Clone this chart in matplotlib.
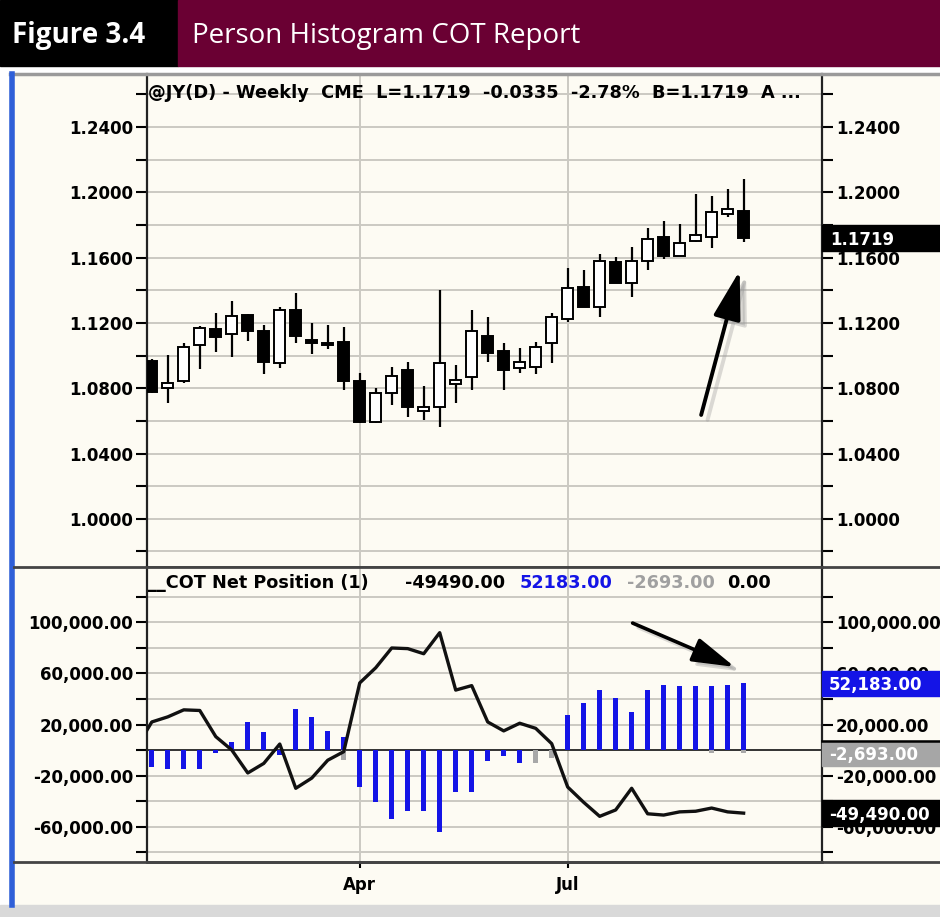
import numpy as np
import matplotlib
matplotlib.use("Agg")
import matplotlib.pyplot as plt
from matplotlib.patches import Rectangle
from matplotlib.lines import Line2D
from matplotlib.ticker import FixedLocator, FuncFormatter

# weekly @JY(D) candles
weeks = np.arange(38)
opens = [1.0969, 1.0799, 1.0844, 1.1065, 1.1161, 1.1130, 1.1248, 1.1150, 1.0952, 1.1279,
         1.1095, 1.1079, 1.1085, 1.0846, 1.0595, 1.0769, 1.0912, 1.0662, 1.0683, 1.0826,
         1.0867, 1.1120, 1.1030, 1.0922, 1.0932, 1.1075, 1.1222, 1.1418, 1.1300, 1.1571,
         1.1443, 1.1581, 1.1724, 1.1612, 1.1702, 1.1724, 1.1867, 1.1888]
highs = [1.0977, 1.1003, 1.1079, 1.1181, 1.1263, 1.1336, 1.1255, 1.1187, 1.1300, 1.1381,
         1.1197, 1.1187, 1.1177, 1.0891, 1.0799, 1.0928, 1.0959, 1.0814, 1.1402, 1.0942,
         1.1279, 1.1238, 1.1079, 1.1044, 1.1085, 1.1259, 1.1534, 1.1524, 1.1622, 1.1606,
         1.1663, 1.1779, 1.1824, 1.1804, 1.1988, 1.1977, 1.2018, 1.2082]
lows = [1.0769, 1.0711, 1.0834, 1.0916, 1.1024, 1.0993, 1.1089, 1.0887, 1.0922, 1.1075,
        1.1008, 1.1038, 1.0789, 1.0585, 1.0585, 1.0697, 1.0626, 1.0605, 1.0564, 1.0711,
        1.0789, 1.0963, 1.0789, 1.0891, 1.0887, 1.0952, 1.1208, 1.1300, 1.1234, 1.1443,
        1.1361, 1.1524, 1.1589, 1.1612, 1.1698, 1.1657, 1.1851, 1.1698]
closes = [1.0779, 1.0834, 1.1055, 1.1171, 1.1116, 1.1244, 1.1150, 1.0963, 1.1279, 1.1120,
          1.1075, 1.1063, 1.0844, 1.0591, 1.0769, 1.0877, 1.0683, 1.0687, 1.0956, 1.0850,
          1.1150, 1.1018, 1.0912, 1.0958, 1.1055, 1.1234, 1.1412, 1.1300, 1.1579, 1.1447,
          1.1579, 1.1712, 1.1612, 1.1688, 1.1738, 1.1877, 1.1896, 1.1719]
last_price = 1.1719

# COT net positions
spec_net = [-13000, -15000, -15000, -15000, -2000, 6500, 22000, 14000, -4000, 32000,
            26000, 15000, 10000, -29000, -41000, -54000, -48000, -48000, -64000, -33000,
            -33000, -9000, -5000, -10500, 0, 0, 27600, 37000, 47000, 41000,
            29500, 47000, 51000, 50000, 50000, 50000, 51000, 52183]
small_net = [0, 0, 0, 0, 0, 0, 0, 0, 0, 0,
             0, 0, -8000, 0, 0, 0, 0, 0, 0, 0,
             0, 0, 0, 0, -10500, -6000, 0, 0, 0, 0,
             0, 0, 0, 0, 0, -2000, 0, -2693]
line_weeks = np.arange(-1, 38)
comm_net = [1000, 22000, 26000, 31500, 31000, 10500, 0, -18000, -10500, 4700,
            -30000, -22000, -8000, -1300, 52600, 64500, 80000, 79500, 75500, 92000,
            47000, 50500, 22000, 15000, 21000, 17000, 5000, -29000, -41000, -52000,
            -47000, -30000, -50000, -51000, -48500, -48000, -45500, -48500, -49490]
last_comm, last_spec, last_small = -49490, 52183, -2693

month_ticks = [13, 26]
month_labels = ["Apr", "Jul"]

W, H = 940, 917
cream = "#fdfbf3"
grid_c = "#cbc9c2"
blue = "#1414e6"
font = "DejaVu Sans"

fig = plt.figure(figsize=(W / 100, H / 100), dpi=100, facecolor="white")


def fx(px):
    return px / W


def fy(py):
    return 1 - py / H


# window background and header
fig.add_artist(Rectangle((fx(10), fy(905)), fx(930), (905 - 74) / H, transform=fig.transFigure,
                         color=cream, zorder=0))
fig.add_artist(Rectangle((0, fy(917)), 1, 12 / H, transform=fig.transFigure, color="#d9d9d9", zorder=0))
fig.add_artist(Rectangle((0, fy(66)), fx(178), 66 / H, transform=fig.transFigure, color="black", zorder=1))
fig.add_artist(Rectangle((fx(178), fy(66)), 1 - fx(178), 66 / H, transform=fig.transFigure,
                         color="#6a0033", zorder=1))
fig.text(fx(12), fy(36), "Figure 3.4", color="white", fontsize=20, fontweight="bold",
         family="Open Sans", va="center", zorder=2)
fig.text(fx(192), fy(36), "Person Histogram COT Report", color="white", fontsize=20,
         family="Open Sans", va="center", zorder=2)
fig.add_artist(Line2D([fx(10), 1], [fy(74), fy(74)], color="#9a9a9a", lw=2.5, transform=fig.transFigure))
fig.add_artist(Line2D([fx(12), fx(12)], [fy(74), fy(905)], color="#2f5fd8", lw=4, transform=fig.transFigure))

ax1 = fig.add_axes([fx(147), fy(567), fx(822 - 147), (567 - 74) / H])
ax2 = fig.add_axes([fx(147), fy(862), fx(822 - 147), (862 - 567) / H], sharex=ax1)

for ax in (ax1, ax2):
    ax.set_facecolor(cream)
    ax.spines["top"].set_visible(False)
    for s in ("left", "right"):
        ax.spines[s].set_linewidth(1.6)
        ax.spines[s].set_color("#222222")
    ax.spines["bottom"].set_linewidth(2)
    ax.spines["bottom"].set_color("#444444")
    ax.tick_params(axis="y", which="both", direction="out", length=8, width=1.5,
                   left=True, right=True, labelleft=True, labelright=True, pad=2)
    ax.grid(axis="y", which="both", color=grid_c, lw=1.4, zorder=0)
    ax.set_axisbelow(True)
    ax.axvline(month_ticks[0], color=grid_c, lw=1.4, zorder=0)
    ax.axvline(month_ticks[1], color=grid_c, lw=1.4, zorder=0)

ax1.set_xlim(-0.3, 41.9)

# ---- price panel
ax1.set_ylim(0.9705, 1.2725)
ax1.yaxis.set_major_locator(FixedLocator([1.00, 1.04, 1.08, 1.12, 1.16, 1.20, 1.24]))
ax1.yaxis.set_minor_locator(FixedLocator([0.98, 1.02, 1.06, 1.10, 1.14, 1.18, 1.22, 1.26]))
ax1.yaxis.set_major_formatter(FuncFormatter(lambda v, p: f"{v:.4f}"))
ax1.tick_params(axis="x", which="both", bottom=False, labelbottom=False)

o = np.array(opens)
c = np.array(closes)
ax1.vlines(weeks, lows, highs, color="black", lw=1.6, zorder=3)
up = c >= o
ax1.bar(weeks, np.abs(c - o), bottom=np.minimum(o, c), width=0.7,
        color=np.where(up, "white", "black"), edgecolor="black", lw=1.4, zorder=4)

ytr1 = ax1.get_yaxis_transform()
ax1.add_patch(Rectangle((1.0, last_price - 0.0080), 0.2, 0.0160, transform=ytr1,
                        color="black", clip_on=False, zorder=9))
ax1.text(1.012, last_price - 0.0012, f"{last_price:.4f}", transform=ytr1, color="white",
         fontsize=12, fontweight="bold", family=font, va="center", ha="left", zorder=10)

# arrow with soft shadow
for dx, dy, col, a in [(0.4, -0.0030, "#999999", 0.35), (0, 0, "black", 1)]:
    ax1.annotate("", xy=(36.8 + dx, 1.1537 + dy), xytext=(34.3 + dx, 1.0620 + dy),
                 arrowprops=dict(arrowstyle="-|>,head_length=3.0,head_width=0.85", color=col,
                                 lw=2.8, alpha=a), zorder=6)

fig.text(fx(148), fy(93), "@JY(D) - Weekly  CME  L=1.1719  -0.0335  -2.78%  B=1.1719  A ...",
         fontsize=12.8, fontweight="bold", family=font, va="center")

# ---- COT panel
ax2.set_ylim(-87800, 143500)
ax2.yaxis.set_major_locator(FixedLocator([-60000, -20000, 20000, 60000, 100000]))
ax2.yaxis.set_minor_locator(FixedLocator([-80000, -40000, 0, 40000, 80000, 120000]))
ax2.yaxis.set_major_formatter(FuncFormatter(lambda v, p: f"{v:,.2f}"))
ax2.set_xticks(month_ticks, month_labels)
ax2.tick_params(axis="x", length=4, width=1.5, pad=6)
for t in ax2.get_xticklabels():
    t.set_fontweight("bold")
    t.set_family(font)
    t.set_fontsize(12)

ax2.axhline(0, color="#333333", lw=1.4, zorder=2)
ax2.bar(weeks, small_net, width=0.3, color="#a8a8a8", zorder=2)
ax2.bar(weeks, spec_net, width=0.3, color=blue, zorder=3)
ax2.plot(line_weeks, comm_net, color="#111111", lw=2.4, zorder=4)

ytr = ax2.get_yaxis_transform()
for val, txt, fc, tc in [(last_spec, "52,183.00", blue, "white"),
                         (last_small, "-2,693.00", "#a6a6a6", "white"),
                         (last_comm, "-49,490.00", "black", "white")]:
    ax2.add_patch(Rectangle((1.0, val - 10000), 0.2, 20000, transform=ytr, color=fc,
                            clip_on=False, zorder=9))
    ax2.text(1.01, val - 1500, txt, transform=ytr, color=tc, fontsize=12, fontweight="bold",
             family=font, va="center", ha="left", zorder=10)
ax2.add_artist(Line2D([1.0, 1.2], [last_small + 10000] * 2, transform=ytr, color="black", lw=1.8,
                      clip_on=False, zorder=10))

for dx, dy, col, a in [(0.35, -3500, "#999999", 0.35), (0, 0, "black", 1)]:
    ax2.annotate("", xy=(36.6 + dx, 64300 + dy), xytext=(29.9 + dx, 100400 + dy),
                 arrowprops=dict(arrowstyle="-|>,head_length=2.6,head_width=0.75", color=col,
                                 lw=2.6, alpha=a), zorder=6)

cot_y = fy(583)
cot_kw = dict(fontsize=12.7, fontweight="bold", family=font, va="center")
fig.text(fx(148), cot_y, "__COT Net Position (1)", **cot_kw)
fig.text(fx(405), cot_y, f"{last_comm:.2f}", **cot_kw)
fig.text(fx(520), cot_y, f"{last_spec:.2f}", color=blue, **cot_kw)
fig.text(fx(627), cot_y, f"{last_small:.2f}", color="#a0a0a0", **cot_kw)
fig.text(fx(727), cot_y, "0.00", **cot_kw)

for ax in (ax1, ax2):
    for t in ax.get_yticklabels():
        t.set_fontweight("bold")
        t.set_family(font)
        t.set_fontsize(12)

# full-width divider lines
fig.add_artist(Line2D([fx(14), 1], [fy(567), fy(567)], color="#444444", lw=2, transform=fig.transFigure))
fig.add_artist(Line2D([fx(14), 1], [fy(862), fy(862)], color="#444444", lw=2, transform=fig.transFigure))

fig.savefig("out.png", dpi=100, facecolor="white")
